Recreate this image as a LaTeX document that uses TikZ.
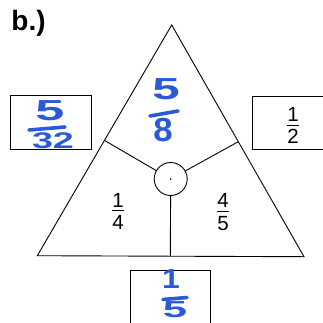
\documentclass[tikz,border=0pt]{standalone}
\usepackage{fontspec}
\setmainfont{Liberation Sans}
\definecolor{pen}{HTML}{2A5AD8}
\begin{document}
\begin{tikzpicture}[x=1pt,y=-1pt, line width=0.9pt,
  box/.style={draw, minimum width=81pt, minimum height=53pt, inner sep=0pt},
  pfrac/.style={align=center, font=\fontsize{20.5}{25}\selectfont, inner sep=0pt},
  ink/.style={text=pen, font=\fontsize{29}{29}\bfseries\selectfont, inner sep=0pt},
  bar/.style={draw=pen, line width=3.6pt, line cap=round},
  hub/.style={draw, circle, minimum size=33pt, inner sep=0pt}]
\fill[white] (0,0) rectangle (323,322);
\useasboundingbox (0,0) rectangle (323,322);
% label
\node[anchor=north west, inner sep=0pt, font=\fontsize{28}{28}\bfseries\selectfont] (lab) at (11,10) {b.)};
% triangle
\coordinate (A) at (171.7,25);
\coordinate (B) at (37.3,255.7);
\coordinate (C) at (304,256.7);
\draw (A) -- (B) -- (C) -- cycle;
\node[hub] (O) at (170.7,179) {};
\fill (O.center) circle (0.9pt);
\coordinate (L) at (105,140.7);
\coordinate (R) at (238.3,141.7);
\coordinate (D) at (170.3,256.2);
\draw (O) -- (L);
\draw (O) -- (R);
\draw (O) -- (D);
% boxes
\node[box, minimum width=81pt, minimum height=53.3pt] (bl) at (50.5,122.3) {};
\node[box, minimum width=80pt, minimum height=53.3pt] (br) at (292,123) {};
\node[box, minimum width=80pt, minimum height=60pt] (bb) at (170,300) {};
% printed fractions
\node[pfrac] (f12) at (293,125.5) {1\\[-21pt]\rule{12pt}{0.7pt}\\[-7pt]2};
\node[pfrac] (f14) at (118,211) {1\\[-21pt]\rule{12pt}{0.7pt}\\[-7pt]4};
\node[pfrac] (f45) at (223,212) {4\\[-21pt]\rule{12pt}{0.7pt}\\[-6pt]5};
% handwritten 5/8
\node[ink] (n58) at (166,89) {\scalebox{1.7}[1.05]{5}};
\draw[bar] (150,116) -- (178,111);
\node[ink] (d58) at (163,130) {\scalebox{1.2}[1.15]{8}};
% handwritten 5/32
\node[ink] (n532) at (50,111) {\scalebox{1.8}[1]{5}};
\draw[bar] (29,130) -- (65,127);
\node[ink] (d532) at (53,141) {\scalebox{1.3}[0.78]{32}};
% handwritten 1/5
\node[ink] (n15) at (171,279) {\scalebox{1.1}[0.95]{1}};
\draw[bar] (163,299.5) -- (187,297.5);
\node[ink] (d15) at (175,310) {\scalebox{1.5}[0.8]{5}};
\end{tikzpicture}
\end{document}
